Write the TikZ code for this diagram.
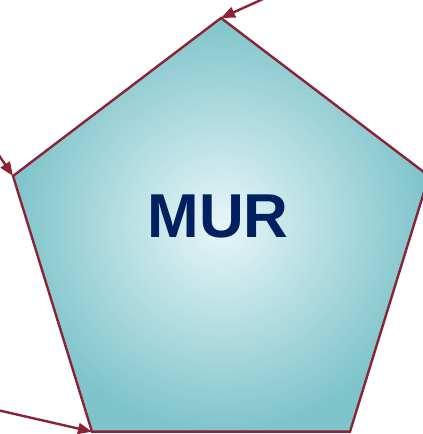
\documentclass[tikz,border=0pt]{standalone}
\usepackage{fontspec}
\setmainfont{Liberation Sans}
\usetikzlibrary{arrows.meta}
\definecolor{edgered}{HTML}{8B2337}
\definecolor{innerc}{HTML}{E8F6F8}
\definecolor{outerc}{HTML}{7FC4CB}
\definecolor{navy}{HTML}{002060}
\tikzset{
  pent/.style={draw=edgered, line width=2.4pt, line join=miter},
  link/.style={draw=edgered, line width=2.4pt, -{Triangle[length=14pt,width=11pt]}},
  label/.style={text=navy, font=\fontsize{62}{62}\selectfont\bfseries, inner sep=0pt}
}
\begin{document}
\begin{tikzpicture}[x=1pt,y=1pt]
\useasboundingbox (0,0) rectangle (423,434);
\clip (0,0) rectangle (423,434);
\coordinate (t) at (221,416);
\coordinate (l) at (13,258);
\coordinate (r) at (429,258);
\coordinate (br) at (350,2.3);
\coordinate (bl) at (92,2.3);
\shade[inner color=innerc, outer color=outerc, shading=radial]
  (t) -- (r) -- (br) -- (bl) -- (l) -- cycle;
\draw[pent] (t) -- (r) -- (br) -- (bl) -- (l) -- cycle;
\node[label] (m) at (218,217.3) {MUR};
\coordinate (s1) at (272,439);
\coordinate (s2) at (-4,283);
\coordinate (s3) at (-5,24.5);
\draw[link] (s1) -- (t);
\draw[link] (s2) -- (l);
\draw[link] (s3) -- (bl);
\end{tikzpicture}
\end{document}
